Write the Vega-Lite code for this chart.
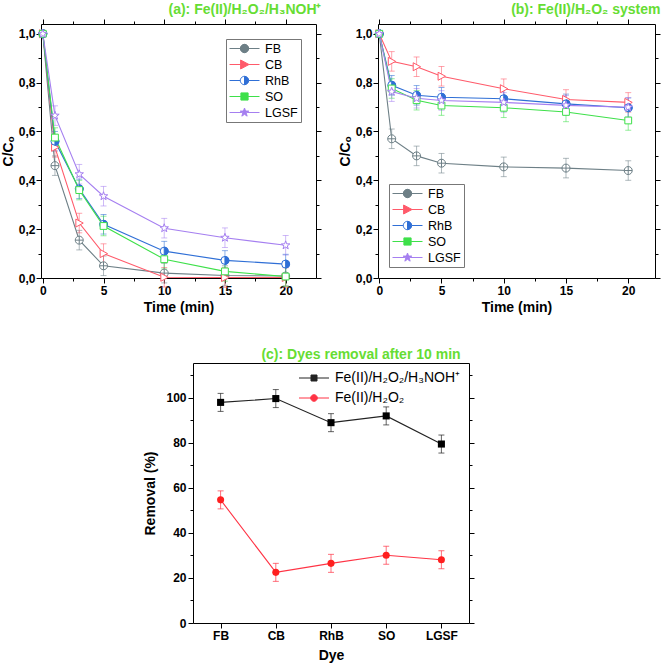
{
  "$schema": "https://vega.github.io/schema/vega-lite/v6.json",
  "padding": {"left": 0, "top": 2, "right": 0, "bottom": 0},
  "background": "white",
  "config": {
    "view": {"stroke": "black", "strokeWidth": 1},
    "axis": {"domain": false, "grid": false, "labelFont": "Liberation Sans", "labelFontWeight": "bold", "labelFontSize": 12, "labelColor": "black", "titleFont": "Liberation Sans", "titleFontWeight": "bold", "titleFontSize": 14, "titleColor": "black", "tickColor": "black", "tickSize": 5, "tickWidth": 1},
    "title": {"font": "Liberation Sans", "fontSize": 14, "fontWeight": "bold", "color": "#66dd33", "anchor": "end", "offset": 2},
    "legend": {"labelFont": "Liberation Sans", "labelFontSize": 12.5, "labelColor": "black", "symbolSize": 144, "symbolStrokeWidth": 1, "symbolOpacity": 1, "symbolOffset": 9, "labelOffset": 14, "rowPadding": 3}
  },
  "datasets": {
    "a": [
      {"dye": "FB", "t": 0, "v": 1.0, "err": 0}, {"dye": "FB", "t": 1, "v": 0.46, "err": 0.04}, {"dye": "FB", "t": 3, "v": 0.155, "err": 0.04}, {"dye": "FB", "t": 5, "v": 0.05, "err": 0.04}, {"dye": "FB", "t": 10, "v": 0.02, "err": 0.04}, {"dye": "FB", "t": 15, "v": 0.01, "err": 0.04}, {"dye": "FB", "t": 20, "v": 0.008, "err": 0.04},
      {"dye": "CB", "t": 0, "v": 1.0, "err": 0}, {"dye": "CB", "t": 1, "v": 0.535, "err": 0.04}, {"dye": "CB", "t": 3, "v": 0.225, "err": 0.04}, {"dye": "CB", "t": 5, "v": 0.1, "err": 0.04}, {"dye": "CB", "t": 10, "v": 0.003, "err": 0.04}, {"dye": "CB", "t": 15, "v": 0.002, "err": 0.04}, {"dye": "CB", "t": 20, "v": 0.002, "err": 0.04},
      {"dye": "RhB", "t": 0, "v": 1.0, "err": 0}, {"dye": "RhB", "t": 1, "v": 0.56, "err": 0.04}, {"dye": "RhB", "t": 3, "v": 0.365, "err": 0.04}, {"dye": "RhB", "t": 5, "v": 0.22, "err": 0.04}, {"dye": "RhB", "t": 10, "v": 0.11, "err": 0.04}, {"dye": "RhB", "t": 15, "v": 0.072, "err": 0.04}, {"dye": "RhB", "t": 20, "v": 0.057, "err": 0.04},
      {"dye": "SO", "t": 0, "v": 1.0, "err": 0}, {"dye": "SO", "t": 1, "v": 0.575, "err": 0.04}, {"dye": "SO", "t": 3, "v": 0.36, "err": 0.04}, {"dye": "SO", "t": 5, "v": 0.213, "err": 0.04}, {"dye": "SO", "t": 10, "v": 0.077, "err": 0.04}, {"dye": "SO", "t": 15, "v": 0.027, "err": 0.04}, {"dye": "SO", "t": 20, "v": 0.006, "err": 0.04},
      {"dye": "LGSF", "t": 0, "v": 1.0, "err": 0}, {"dye": "LGSF", "t": 1, "v": 0.665, "err": 0.04}, {"dye": "LGSF", "t": 3, "v": 0.425, "err": 0.04}, {"dye": "LGSF", "t": 5, "v": 0.335, "err": 0.04}, {"dye": "LGSF", "t": 10, "v": 0.204, "err": 0.04}, {"dye": "LGSF", "t": 15, "v": 0.165, "err": 0.04}, {"dye": "LGSF", "t": 20, "v": 0.134, "err": 0.04}
    ],
    "b": [
      {"dye": "FB", "t": 0, "v": 1.0, "err": 0}, {"dye": "FB", "t": 1, "v": 0.57, "err": 0.04}, {"dye": "FB", "t": 3, "v": 0.5, "err": 0.04}, {"dye": "FB", "t": 5, "v": 0.47, "err": 0.04}, {"dye": "FB", "t": 10, "v": 0.455, "err": 0.04}, {"dye": "FB", "t": 15, "v": 0.45, "err": 0.04}, {"dye": "FB", "t": 20, "v": 0.44, "err": 0.04},
      {"dye": "CB", "t": 0, "v": 1.0, "err": 0}, {"dye": "CB", "t": 1, "v": 0.887, "err": 0.04}, {"dye": "CB", "t": 3, "v": 0.865, "err": 0.04}, {"dye": "CB", "t": 5, "v": 0.826, "err": 0.04}, {"dye": "CB", "t": 10, "v": 0.775, "err": 0.04}, {"dye": "CB", "t": 15, "v": 0.731, "err": 0.04}, {"dye": "CB", "t": 20, "v": 0.719, "err": 0.04},
      {"dye": "RhB", "t": 0, "v": 1.0, "err": 0}, {"dye": "RhB", "t": 1, "v": 0.789, "err": 0.04}, {"dye": "RhB", "t": 3, "v": 0.748, "err": 0.04}, {"dye": "RhB", "t": 5, "v": 0.74, "err": 0.04}, {"dye": "RhB", "t": 10, "v": 0.734, "err": 0.04}, {"dye": "RhB", "t": 15, "v": 0.713, "err": 0.04}, {"dye": "RhB", "t": 20, "v": 0.697, "err": 0.04},
      {"dye": "SO", "t": 0, "v": 1.0, "err": 0}, {"dye": "SO", "t": 1, "v": 0.776, "err": 0.04}, {"dye": "SO", "t": 3, "v": 0.728, "err": 0.04}, {"dye": "SO", "t": 5, "v": 0.706, "err": 0.04}, {"dye": "SO", "t": 10, "v": 0.697, "err": 0.04}, {"dye": "SO", "t": 15, "v": 0.68, "err": 0.04}, {"dye": "SO", "t": 20, "v": 0.645, "err": 0.04},
      {"dye": "LGSF", "t": 0, "v": 1.0, "err": 0}, {"dye": "LGSF", "t": 1, "v": 0.763, "err": 0.04}, {"dye": "LGSF", "t": 3, "v": 0.736, "err": 0.04}, {"dye": "LGSF", "t": 5, "v": 0.727, "err": 0.04}, {"dye": "LGSF", "t": 10, "v": 0.719, "err": 0.04}, {"dye": "LGSF", "t": 15, "v": 0.707, "err": 0.04}, {"dye": "LGSF", "t": 20, "v": 0.699, "err": 0.04}
    ],
    "c": [
      {"sys": "Fe(II)/H₂O₂/H₃NOH⁺", "dye": "FB", "r": 98.0, "err": 4}, {"sys": "Fe(II)/H₂O₂/H₃NOH⁺", "dye": "CB", "r": 99.7, "err": 4}, {"sys": "Fe(II)/H₂O₂/H₃NOH⁺", "dye": "RhB", "r": 89.0, "err": 4}, {"sys": "Fe(II)/H₂O₂/H₃NOH⁺", "dye": "SO", "r": 92.0, "err": 4}, {"sys": "Fe(II)/H₂O₂/H₃NOH⁺", "dye": "LGSF", "r": 79.5, "err": 4},
      {"sys": "Fe(II)/H₂O₂", "dye": "FB", "r": 54.7, "err": 4}, {"sys": "Fe(II)/H₂O₂", "dye": "CB", "r": 22.5, "err": 4}, {"sys": "Fe(II)/H₂O₂", "dye": "RhB", "r": 26.5, "err": 4}, {"sys": "Fe(II)/H₂O₂", "dye": "SO", "r": 30.1, "err": 4}, {"sys": "Fe(II)/H₂O₂", "dye": "LGSF", "r": 28.1, "err": 4}
    ]
  },
  "spacing": 32,
  "resolve": {
    "scale": {"color": "independent", "fill": "independent", "stroke": "independent", "shape": "independent"},
    "legend": {"color": "independent", "fill": "independent", "stroke": "independent", "shape": "independent"}
  },
  "vconcat": [
    {
      "spacing": 15,
      "resolve": {
        "scale": {"color": "independent", "fill": "independent", "stroke": "independent", "shape": "independent"},
        "legend": {"color": "independent", "fill": "independent", "stroke": "independent", "shape": "independent"}
      },
      "hconcat": [
        {
          "width": 275, "height": 254,
          "title": {"text": "(a): Fe(II)/H₂O₂/H₃NOH⁺"},
          "data": {"name": "a"},
          "resolve": {"axis": {"x": "independent", "y": "independent"}},
          "layer": [
            {
              "mark": {"type": "errorbar", "ticks": {"size": 6, "opacity": 0.55}, "rule": {"opacity": 0.55}},
              "encoding": {
                "x": {"field": "t", "type": "quantitative", "axis": null},
                "y": {"field": "v", "type": "quantitative", "axis": null},
                "yError": {"field": "err"},
                "color": {"field": "dye", "type": "nominal"}
              }
            },
            {
              "mark": {"type": "line", "strokeWidth": 1.1},
              "encoding": {
                "x": {"field": "t", "type": "quantitative", "scale": {"domain": [-0.15, 22.5], "nice": false, "zero": false}, "axis": {"orient": "bottom", "values": [0, 5, 10, 15, 20], "title": "Time (min)", "titlePadding": 4}},
                "y": {"field": "v", "type": "quantitative", "scale": {"domain": [0, 1.04], "nice": false}, "axis": {"orient": "left", "values": [0, 0.2, 0.4, 0.6, 0.8, 1], "labelExpr": "replace(format(datum.value,'.1f'),'.',',')", "title": "C/Cₒ", "titlePadding": 3, "labelPadding": 1}},
                "color": {"field": "dye", "type": "nominal", "scale": {"domain": ["FB", "CB", "RhB", "SO", "LGSF"], "range": ["#6d7f86", "#ff5a6a", "#2f6fd6", "#3ee04a", "#a57ff0"]},
                  "legend": {"title": null, "orient": "top-right", "offset": 15, "strokeColor": "#777777", "fillColor": "white", "padding": 3, "symbolFillColor": "white"}}
              }
            },
            {
              "transform": [{"filter": "false"}],
              "mark": {"type": "point", "opacity": 1, "filled": false, "strokeWidth": 1, "size": 144},
              "encoding": {
                "x": {"field": "t", "type": "quantitative", "axis": {"orient": "top", "values": [2.5, 7.5, 12.5, 17.5], "labels": false, "title": null, "tickSize": 3}},
                "y": {"field": "v", "type": "quantitative", "axis": {"orient": "right", "values": [0.1, 0.3, 0.5, 0.7, 0.9], "labels": false, "title": null, "tickSize": 3}},
                "color": {"field": "dye", "type": "nominal", "legend": {"title": null, "orient": "top-right", "offset": 15, "strokeColor": "#777777", "fillColor": "white", "padding": 3, "symbolFillColor": "white"}},
                "fill": {"field": "dye", "type": "nominal", "scale": {"domain": ["FB", "CB", "RhB", "SO", "LGSF"], "range": ["white", "white", "#2f6fd6", "white", "white"]}, "legend": {"title": null, "orient": "top-right", "offset": 15, "strokeColor": "#777777", "fillColor": "white", "padding": 3}},
                "shape": {"field": "dye", "type": "nominal", "scale": {"domain": ["FB", "CB", "RhB", "SO", "LGSF"], "range": [
                  "M-2.5,0L2.5,0M-0.7,0A0.7,0.7 0 1,0 0.7,0A0.7,0.7 0 1,0 -0.7,0ZM0,-0.7L0,0.7",
                  "M-2.5,0L-0.65,0M0.75,0L2.5,0M-0.65,-0.75L0.75,0L-0.65,0.75Z",
                  "M-2.5,0L-0.7,0M0.7,0L2.5,0M0,-0.7A0.7,0.7 0 0,1 0,0.7ZM0,0.7A0.7,0.7 0 0,1 -0.35,0.606M-0.35,0.606A0.7,0.7 0 0,1 -0.606,0.35M-0.606,0.35A0.7,0.7 0 0,1 -0.7,0M-0.7,0A0.7,0.7 0 0,1 -0.606,-0.35M-0.606,-0.35A0.7,0.7 0 0,1 -0.35,-0.606M-0.35,-0.606A0.7,0.7 0 0,1 0,-0.7",
                  "M-2.5,0L-0.6,0M0.6,0L2.5,0M-0.6,-0.6L0.6,-0.6L0.6,0.6L-0.6,0.6Z",
                  "M-2.5,0L-0.45,0M0.45,0L2.5,0M0,-0.75L0.176,-0.243L0.713,-0.232L0.285,0.093L0.441,0.607L0,0.3L-0.441,0.607L-0.285,0.093L-0.713,-0.232L-0.176,-0.243Z"]},
                  "legend": {"title": null, "orient": "top-right", "offset": 15, "strokeColor": "#777777", "fillColor": "white", "padding": 3}}
              }
            },
            {
              "transform": [{"filter": "datum.dye==='FB'"}],
              "mark": {"type": "point", "opacity": 1, "filled": false, "strokeWidth": 1, "size": 64, "fill": "white", "stroke": "#6d7f86", "shape": "M-1,0A1,1 0 1,0 1,0A1,1 0 1,0 -1,0ZM-1,0L1,0M0,-1L0,1"},
              "encoding": {
                "x": {"field": "t", "type": "quantitative", "axis": {"orient": "top", "values": [0, 5, 10, 15, 20], "labels": false, "title": null}},
                "y": {"field": "v", "type": "quantitative", "axis": {"orient": "right", "values": [0, 0.2, 0.4, 0.6, 0.8, 1], "labels": false, "title": null}}
              }
            },
            {
              "transform": [{"filter": "datum.dye==='CB'"}],
              "mark": {"type": "point", "opacity": 1, "filled": false, "strokeWidth": 1, "size": 64, "fill": "white", "stroke": "#ff5a6a", "shape": "M-0.85,-1L1,0L-0.85,1Z"},
              "encoding": {
                "x": {"field": "t", "type": "quantitative", "axis": {"orient": "bottom", "values": [2.5, 7.5, 12.5, 17.5], "labels": false, "title": null, "tickSize": 3}},
                "y": {"field": "v", "type": "quantitative", "axis": {"orient": "left", "values": [0.1, 0.3, 0.5, 0.7, 0.9], "labels": false, "title": null, "tickSize": 3}}
              }
            },
            {
              "transform": [{"filter": "datum.dye==='RhB'"}],
              "mark": {"type": "point", "opacity": 1, "filled": false, "strokeWidth": 1, "size": 64, "fill": "white", "stroke": "#2f6fd6", "shape": "circle"},
              "encoding": {
                "x": {"field": "t", "type": "quantitative", "axis": null},
                "y": {"field": "v", "type": "quantitative", "axis": null}
              }
            },
            {
              "transform": [{"filter": "datum.dye==='RhB'"}],
              "mark": {"type": "point", "opacity": 1, "filled": false, "strokeWidth": 1, "size": 64, "fill": "#2f6fd6", "stroke": "#2f6fd6", "shape": "M0,-1A1,1 0 0,1 0,1Z"},
              "encoding": {
                "x": {"field": "t", "type": "quantitative", "axis": null},
                "y": {"field": "v", "type": "quantitative", "axis": null}
              }
            },
            {
              "transform": [{"filter": "datum.dye==='SO'"}],
              "mark": {"type": "point", "opacity": 1, "filled": false, "strokeWidth": 1, "size": 64, "fill": "white", "stroke": "#3ee04a", "shape": "M-0.85,-0.85L0.85,-0.85L0.85,0.85L-0.85,0.85Z"},
              "encoding": {
                "x": {"field": "t", "type": "quantitative", "axis": null},
                "y": {"field": "v", "type": "quantitative", "axis": null}
              }
            },
            {
              "transform": [{"filter": "datum.dye==='LGSF'"}],
              "mark": {"type": "point", "opacity": 1, "filled": false, "strokeWidth": 1, "size": 64, "fill": "white", "stroke": "#a57ff0", "shape": "M0,-1.1L0.26,-0.36L1.05,-0.34L0.42,0.14L0.65,0.89L0,0.44L-0.65,0.89L-0.42,0.14L-1.05,-0.34L-0.26,-0.36Z"},
              "encoding": {
                "x": {"field": "t", "type": "quantitative", "axis": null},
                "y": {"field": "v", "type": "quantitative", "axis": null}
              }
            }
          ]
        },
        {
          "width": 277, "height": 254,
          "title": {"text": "(b): Fe(II)/H₂O₂ system"},
          "data": {"name": "b"},
          "resolve": {"axis": {"x": "independent", "y": "independent"}},
          "layer": [
            {
              "mark": {"type": "errorbar", "ticks": {"size": 6, "opacity": 0.55}, "rule": {"opacity": 0.55}},
              "encoding": {
                "x": {"field": "t", "type": "quantitative", "axis": null},
                "y": {"field": "v", "type": "quantitative", "axis": null},
                "yError": {"field": "err"},
                "color": {"field": "dye", "type": "nominal"}
              }
            },
            {
              "mark": {"type": "line", "strokeWidth": 1.1},
              "encoding": {
                "x": {"field": "t", "type": "quantitative", "scale": {"domain": [-0.1, 22.15], "nice": false, "zero": false}, "axis": {"orient": "bottom", "values": [0, 5, 10, 15, 20], "title": "Time (min)", "titlePadding": 4}},
                "y": {"field": "v", "type": "quantitative", "scale": {"domain": [0, 1.04], "nice": false}, "axis": {"orient": "left", "values": [0, 0.2, 0.4, 0.6, 0.8, 1], "labelExpr": "replace(format(datum.value,'.1f'),'.',',')", "title": "C/Cₒ", "titlePadding": 3, "labelPadding": 1}},
                "color": {"field": "dye", "type": "nominal", "scale": {"domain": ["FB", "CB", "RhB", "SO", "LGSF"], "range": ["#6d7f86", "#ff5a6a", "#2f6fd6", "#3ee04a", "#a57ff0"]},
                  "legend": {"title": null, "orient": "bottom-left", "offset": 11, "strokeColor": "#777777", "fillColor": "white", "padding": 3, "symbolFillColor": "white"}}
              }
            },
            {
              "transform": [{"filter": "false"}],
              "mark": {"type": "point", "opacity": 1, "filled": false, "strokeWidth": 1, "size": 144},
              "encoding": {
                "x": {"field": "t", "type": "quantitative", "axis": {"orient": "top", "values": [2.5, 7.5, 12.5, 17.5], "labels": false, "title": null, "tickSize": 3}},
                "y": {"field": "v", "type": "quantitative", "axis": {"orient": "right", "values": [0.1, 0.3, 0.5, 0.7, 0.9], "labels": false, "title": null, "tickSize": 3}},
                "color": {"field": "dye", "type": "nominal", "legend": {"title": null, "orient": "bottom-left", "offset": 11, "strokeColor": "#777777", "fillColor": "white", "padding": 3, "symbolFillColor": "white"}},
                "fill": {"field": "dye", "type": "nominal", "scale": {"domain": ["FB", "CB", "RhB", "SO", "LGSF"], "range": ["white", "white", "#2f6fd6", "white", "white"]}, "legend": {"title": null, "orient": "bottom-left", "offset": 11, "strokeColor": "#777777", "fillColor": "white", "padding": 3}},
                "shape": {"field": "dye", "type": "nominal", "scale": {"domain": ["FB", "CB", "RhB", "SO", "LGSF"], "range": [
                  "M-2.5,0L2.5,0M-0.7,0A0.7,0.7 0 1,0 0.7,0A0.7,0.7 0 1,0 -0.7,0ZM0,-0.7L0,0.7",
                  "M-2.5,0L-0.65,0M0.75,0L2.5,0M-0.65,-0.75L0.75,0L-0.65,0.75Z",
                  "M-2.5,0L-0.7,0M0.7,0L2.5,0M0,-0.7A0.7,0.7 0 0,1 0,0.7ZM0,0.7A0.7,0.7 0 0,1 -0.35,0.606M-0.35,0.606A0.7,0.7 0 0,1 -0.606,0.35M-0.606,0.35A0.7,0.7 0 0,1 -0.7,0M-0.7,0A0.7,0.7 0 0,1 -0.606,-0.35M-0.606,-0.35A0.7,0.7 0 0,1 -0.35,-0.606M-0.35,-0.606A0.7,0.7 0 0,1 0,-0.7",
                  "M-2.5,0L-0.6,0M0.6,0L2.5,0M-0.6,-0.6L0.6,-0.6L0.6,0.6L-0.6,0.6Z",
                  "M-2.5,0L-0.45,0M0.45,0L2.5,0M0,-0.75L0.176,-0.243L0.713,-0.232L0.285,0.093L0.441,0.607L0,0.3L-0.441,0.607L-0.285,0.093L-0.713,-0.232L-0.176,-0.243Z"]},
                  "legend": {"title": null, "orient": "bottom-left", "offset": 11, "strokeColor": "#777777", "fillColor": "white", "padding": 3}}
              }
            },
            {
              "transform": [{"filter": "datum.dye==='FB'"}],
              "mark": {"type": "point", "opacity": 1, "filled": false, "strokeWidth": 1, "size": 64, "fill": "white", "stroke": "#6d7f86", "shape": "M-1,0A1,1 0 1,0 1,0A1,1 0 1,0 -1,0ZM-1,0L1,0M0,-1L0,1"},
              "encoding": {
                "x": {"field": "t", "type": "quantitative", "axis": {"orient": "top", "values": [0, 5, 10, 15, 20], "labels": false, "title": null}},
                "y": {"field": "v", "type": "quantitative", "axis": {"orient": "right", "values": [0, 0.2, 0.4, 0.6, 0.8, 1], "labels": false, "title": null}}
              }
            },
            {
              "transform": [{"filter": "datum.dye==='CB'"}],
              "mark": {"type": "point", "opacity": 1, "filled": false, "strokeWidth": 1, "size": 64, "fill": "white", "stroke": "#ff5a6a", "shape": "M-0.85,-1L1,0L-0.85,1Z"},
              "encoding": {
                "x": {"field": "t", "type": "quantitative", "axis": {"orient": "bottom", "values": [2.5, 7.5, 12.5, 17.5], "labels": false, "title": null, "tickSize": 3}},
                "y": {"field": "v", "type": "quantitative", "axis": {"orient": "left", "values": [0.1, 0.3, 0.5, 0.7, 0.9], "labels": false, "title": null, "tickSize": 3}}
              }
            },
            {
              "transform": [{"filter": "datum.dye==='RhB'"}],
              "mark": {"type": "point", "opacity": 1, "filled": false, "strokeWidth": 1, "size": 64, "fill": "white", "stroke": "#2f6fd6", "shape": "circle"},
              "encoding": {
                "x": {"field": "t", "type": "quantitative", "axis": null},
                "y": {"field": "v", "type": "quantitative", "axis": null}
              }
            },
            {
              "transform": [{"filter": "datum.dye==='RhB'"}],
              "mark": {"type": "point", "opacity": 1, "filled": false, "strokeWidth": 1, "size": 64, "fill": "#2f6fd6", "stroke": "#2f6fd6", "shape": "M0,-1A1,1 0 0,1 0,1Z"},
              "encoding": {
                "x": {"field": "t", "type": "quantitative", "axis": null},
                "y": {"field": "v", "type": "quantitative", "axis": null}
              }
            },
            {
              "transform": [{"filter": "datum.dye==='SO'"}],
              "mark": {"type": "point", "opacity": 1, "filled": false, "strokeWidth": 1, "size": 64, "fill": "white", "stroke": "#3ee04a", "shape": "M-0.85,-0.85L0.85,-0.85L0.85,0.85L-0.85,0.85Z"},
              "encoding": {
                "x": {"field": "t", "type": "quantitative", "axis": null},
                "y": {"field": "v", "type": "quantitative", "axis": null}
              }
            },
            {
              "transform": [{"filter": "datum.dye==='LGSF'"}],
              "mark": {"type": "point", "opacity": 1, "filled": false, "strokeWidth": 1, "size": 64, "fill": "white", "stroke": "#a57ff0", "shape": "M0,-1.1L0.26,-0.36L1.05,-0.34L0.42,0.14L0.65,0.89L0,0.44L-0.65,0.89L-0.42,0.14L-1.05,-0.34L-0.26,-0.36Z"},
              "encoding": {
                "x": {"field": "t", "type": "quantitative", "axis": null},
                "y": {"field": "v", "type": "quantitative", "axis": null}
              }
            }
          ]
        }
      ]
    },
    {
      "spacing": 0,
      "resolve": {
        "scale": {"color": "independent", "fill": "independent", "stroke": "independent", "shape": "independent"},
        "legend": {"color": "independent", "fill": "independent", "stroke": "independent", "shape": "independent"}
      },
      "hconcat": [
        {
          "width": 102, "height": 260,
          "view": {"stroke": null},
          "data": {"values": [{"s": ""}]},
          "mark": {"type": "text"},
          "encoding": {"text": {"field": "s"}}
        },
        {
          "width": 276, "height": 260,
          "title": {"text": "(c): Dyes removal after 10 min", "anchor": "middle", "dx": 30, "offset": 1},
          "data": {"name": "c"},
          "resolve": {"axis": {"x": "independent", "y": "independent"}},
          "layer": [
            {
              "mark": {"type": "errorbar", "ticks": {"size": 6, "opacity": 0.7}, "rule": {"opacity": 0.7}},
              "encoding": {
                "x": {"field": "dye", "type": "nominal", "axis": null},
                "y": {"field": "r", "type": "quantitative", "axis": null},
                "yError": {"field": "err"},
                "color": {"field": "sys", "type": "nominal"}
              }
            },
            {
              "mark": {"type": "line", "strokeWidth": 1.1},
              "encoding": {
                "x": {"field": "dye", "type": "nominal", "scale": {"type": "point", "domain": ["FB", "CB", "RhB", "SO", "LGSF"], "padding": 0.5}, "axis": {"orient": "bottom", "labelAngle": 0, "title": "Dye", "titlePadding": 7, "labelPadding": 2}},
                "y": {"field": "r", "type": "quantitative", "scale": {"domain": [0, 115.5], "nice": false}, "axis": {"orient": "left", "values": [0, 20, 40, 60, 80, 100], "title": "Removal (%)", "titlePadding": 8}},
                "color": {"field": "sys", "type": "nominal", "scale": {"domain": ["Fe(II)/H₂O₂/H₃NOH⁺", "Fe(II)/H₂O₂"], "range": ["#222222", "#ff3344"]},
                  "legend": {"title": null, "orient": "top-right", "offset": 8, "labelFontSize": 14, "rowPadding": 6}}
              }
            },
            {
              "transform": [{"filter": "false"}],
              "mark": {"type": "point", "opacity": 1, "filled": false, "strokeWidth": 1, "size": 144},
              "encoding": {
                "x": {"field": "dye", "type": "nominal", "axis": null},
                "y": {"field": "r", "type": "quantitative", "axis": {"orient": "right", "values": [10, 30, 50, 70, 90, 110], "labels": false, "title": null, "tickSize": 3}},
                "color": {"field": "sys", "type": "nominal", "legend": {"title": null, "orient": "top-right", "offset": 8, "labelFontSize": 14, "rowPadding": 6}},
                "fill": {"field": "sys", "type": "nominal", "scale": {"domain": ["Fe(II)/H₂O₂/H₃NOH⁺", "Fe(II)/H₂O₂"], "range": ["#000000", "#ff1f1f"]}, "legend": {"title": null, "orient": "top-right", "offset": 8, "labelFontSize": 14, "rowPadding": 6}},
                "shape": {"field": "sys", "type": "nominal", "scale": {"domain": ["Fe(II)/H₂O₂/H₃NOH⁺", "Fe(II)/H₂O₂"], "range": ["M-2.5,0L2.5,0M-0.5,-0.5L0.5,-0.5L0.5,0.5L-0.5,0.5Z", "M-2.5,0L2.5,0M-0.55,0A0.55,0.55 0 1,0 0.55,0A0.55,0.55 0 1,0 -0.55,0Z"]}, "legend": {"title": null, "orient": "top-right", "offset": 8, "labelFontSize": 14, "rowPadding": 6}}
              }
            },
            {
              "transform": [{"filter": "datum.sys==='Fe(II)/H₂O₂/H₃NOH⁺'"}],
              "mark": {"type": "point", "opacity": 1, "filled": true, "size": 50, "fill": "#000000", "shape": "square"},
              "encoding": {
                "x": {"field": "dye", "type": "nominal", "axis": null},
                "y": {"field": "r", "type": "quantitative", "axis": {"orient": "right", "values": [0, 20, 40, 60, 80, 100], "labels": false, "title": null}}
              }
            },
            {
              "transform": [{"filter": "datum.sys==='Fe(II)/H₂O₂'"}],
              "mark": {"type": "point", "opacity": 1, "filled": true, "size": 50, "fill": "#ff1f1f", "shape": "circle"},
              "encoding": {
                "x": {"field": "dye", "type": "nominal", "axis": null},
                "y": {"field": "r", "type": "quantitative", "axis": {"orient": "left", "values": [10, 30, 50, 70, 90, 110], "labels": false, "title": null, "tickSize": 3}}
              }
            }
          ]
        }
      ]
    }
  ]
}
